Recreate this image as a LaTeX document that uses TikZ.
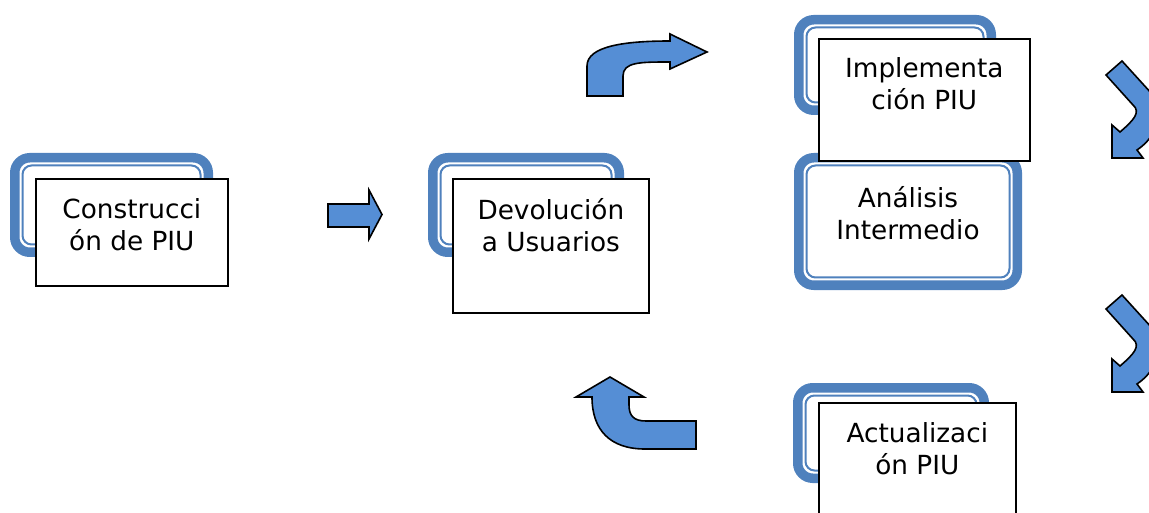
\documentclass[tikz,border=0pt]{standalone}
\usepackage{fontspec}
\setmainfont{DejaVu Sans}
\definecolor{frameblue}{RGB}{79,129,189}
\definecolor{arrowblue}{RGB}{85,142,213}
\newcommand\piuframe[4]{%
  \draw[frameblue, line width=9.5pt, rounded corners=15pt, fill=white] (#1+4.75,#2+4.75) rectangle (#3-4.75,#4-4.75);
  \draw[frameblue, line width=2pt, rounded corners=9pt] (#1+12.5,#2+12.5) rectangle (#3-12.5,#4-12.5);}
\tikzset{
  piubox/.style={draw=black, line width=1.7pt, fill=white, anchor=north west, inner sep=0pt},
  piutext/.style={font=\fontsize{26.3}{32}\selectfont, align=center, anchor=north, inner sep=0pt},
  piuarrow/.style={fill=arrowblue, draw=black, line width=1.6pt, line join=miter}
}
\begin{document}
\begin{tikzpicture}[x=1pt,y=-1pt]
\useasboundingbox (0,0) rectangle (1149,513);
\clip (0,0) rectangle (1149,513);
% frames
\piuframe{10}{153}{213}{257}
\piuframe{428}{153}{624}{257}
\piuframe{794}{15}{996}{115}
\piuframe{794}{153}{1022}{290}
\piuframe{793}{383}{989}{483}
% front boxes
\node[piubox, minimum width=192pt, minimum height=107pt] (b1) at (35,178) {};
\node[piutext] (t1) at ([yshift=-20pt]b1.north) {Construcci\\ón de PIU};
\node[piubox, minimum width=196pt, minimum height=134pt] (b2) at (452,178) {};
\node[piutext] (t2) at ([yshift=-20pt]b2.north) {Devolución\\a Usuarios};
\node[piubox, minimum width=211pt, minimum height=122pt] (b3) at (818,38) {};
\node[piutext] (t3) at ([yshift=-19pt]b3.north) {Implementa\\ción PIU};
\coordinate (b4) at (908,186);
\node[piutext] (t4) at (b4) {Análisis\\Intermedio};
\node[piubox, minimum width=197pt, minimum height=140pt] (b5) at (818,402) {};
\node[piutext] (t5) at ([yshift=-20pt]b5.north) {Actualizaci\\ón PIU};
% straight arrow
\draw[piuarrow] (328,204) -- (369,204) -- (369,190) -- (382,214.5) -- (369,239) -- (369,227) -- (328,227) -- cycle;
% bent arrow top
\draw[piuarrow] (587,96) -- (587,66) .. controls (587,46) and (625,41) .. (670,41) -- (670,34) -- (707,52) -- (670,69) -- (670,62)
  .. controls (640,62) and (623,62) .. (623,76) -- (623,96) -- cycle;
% U arrow bottom
\draw[piuarrow] (610,377) -- (644,397) -- (629,397) -- (629,405) .. controls (629,416) and (634,421) .. (646,421) -- (696,421) -- (696,449) -- (645,449)
  .. controls (610,449) and (592,430) .. (592,397) -- (576,397) -- cycle;
% right curved arrows
\foreach \dy in {0,234}{
\draw[piuarrow] (1106,75+\dy) -- (1122,61+\dy) -- (1152,94+\dy) .. controls (1164,112+\dy) and (1158,136+\dy) .. (1137,150+\dy)
  -- (1143,158+\dy) -- (1112,158+\dy) -- (1112,125+\dy) -- (1120,132+\dy)
  .. controls (1134,120+\dy) and (1141,112+\dy) .. (1133,105+\dy) -- cycle;
}
\end{tikzpicture}
\end{document}
